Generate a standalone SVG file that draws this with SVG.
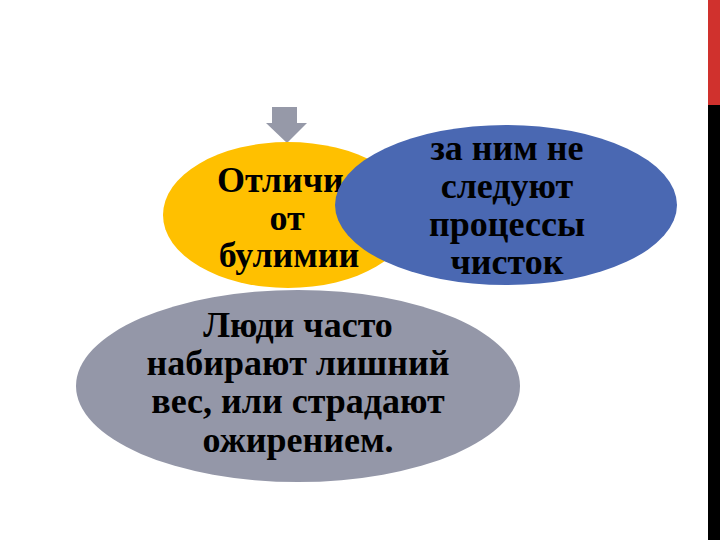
<svg xmlns="http://www.w3.org/2000/svg" width="720" height="540" viewBox="0 0 720 540">
<style>
.t{font-family:'Liberation Serif','Times New Roman',serif;font-weight:700;font-size:36px;fill:#000;text-anchor:middle}
</style>
<rect width="720" height="540" fill="#fff"/>
<rect x="708" y="0" width="12" height="105" fill="#D0312D"/>
<rect x="708" y="105" width="12" height="435" fill="#000"/>
<g id="connectors">
<path d="M272 107 H297 V123 H307 L287 143 L266 123 H272 Z" fill="#9699A8"/>
</g>
<g id="node-yellow">
<ellipse cx="288" cy="215" rx="125" ry="73" fill="#FFC000"/>
<text class="t" x="217" y="192" style="text-anchor:start">Отличи</text>
<text class="t" x="287" y="230">от</text>
<text class="t" x="289" y="267">булимии</text>
</g>
<g id="node-blue">
<ellipse cx="506" cy="205" rx="171" ry="80" fill="#4A68B2"/>
<text class="t" x="507" y="160">за ним не</text>
<text class="t" x="507" y="198">следуют</text>
<text class="t" x="507" y="236">процессы</text>
<text class="t" x="507" y="274">чисток</text>
</g>
<g id="node-gray">
<ellipse cx="298" cy="386" rx="222" ry="96" fill="#9497A8"/>
<text class="t" x="298" y="337">Люди часто</text>
<text class="t" x="298" y="375">набирают лишний</text>
<text class="t" x="298" y="413">вес, или страдают</text>
<text class="t" x="298" y="452">ожирением.</text>
</g>
</svg>
